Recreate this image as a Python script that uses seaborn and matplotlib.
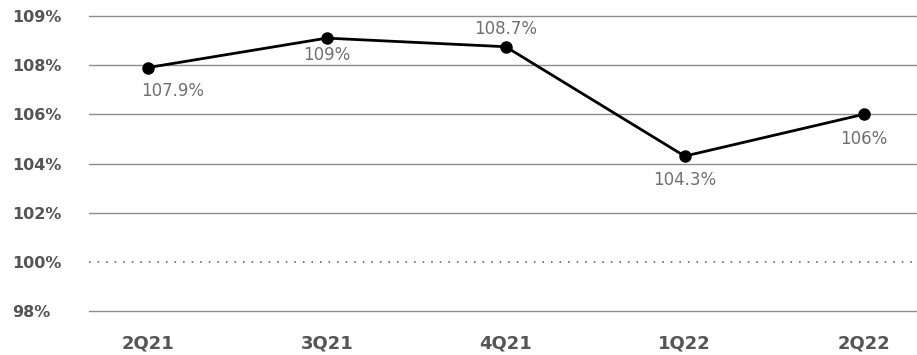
import matplotlib
matplotlib.use("Agg")
import matplotlib.pyplot as plt
import seaborn as sns
import pandas as pd

quarters = ["2Q21", "3Q21", "4Q21", "1Q22", "2Q22"]
ratio = [107.9, 109.1, 108.75, 104.3, 106.0]
value_labels = ["107.9%", "109%", "108.7%", "104.3%", "106%"]
ytick_values = [98, 100, 102, 104, 106, 108, 110]
ytick_labels = ["98%", "100%", "102%", "104%", "106%", "108%", "109%"]

# label offsets (points) relative to each marker
label_offsets = [(18, -17), (0, -12), (0, 13), (0, -17), (0, -18)]

sns.set_theme(style="white")
plt.rcParams["font.family"] = ["DejaVu Sans"]

df = pd.DataFrame({"quarter": quarters, "ratio": ratio})

fig = plt.figure(figsize=(9.17, 3.55), dpi=100)
ax = fig.add_axes([89 / 917, 44 / 355, 828 / 917, 295 / 355])

for v in ytick_values:
    if v == 100:
        ax.axhline(v, color="#777777", lw=1.4, ls=(0, (0.8, 3.6)), zorder=1,
                   clip_on=False)
    else:
        ax.axhline(v, color="#8c8c8c", lw=1.0, zorder=1, clip_on=False)

sns.lineplot(data=df, x="quarter", y="ratio", ax=ax, color="black",
             linewidth=2.0, marker="o", markersize=9, markeredgewidth=0,
             zorder=3, clip_on=False)

for i, (lab, off) in enumerate(zip(value_labels, label_offsets)):
    ax.annotate(lab, (i, ratio[i]), xytext=off, textcoords="offset points",
                ha="center", va="center", fontsize=12, color="#707070")

ax.set_xlim(-0.328, 4.298)
ax.set_ylim(98, 110)
ax.set_yticks(ytick_values)
ax.set_yticklabels(ytick_labels)
ax.set_xlabel("")
ax.set_ylabel("")
for s in ax.spines.values():
    s.set_visible(False)

ax.tick_params(axis="y", length=0, pad=55.4, labelsize=11.5, labelcolor="#555555")
ax.tick_params(axis="x", length=0, pad=17, labelsize=13, labelcolor="#555555")
for t in ax.get_yticklabels():
    t.set_ha("left")
    t.set_fontweight("bold")
for t in ax.get_xticklabels():
    t.set_fontweight("bold")

fig.savefig("out.png", dpi=100)
